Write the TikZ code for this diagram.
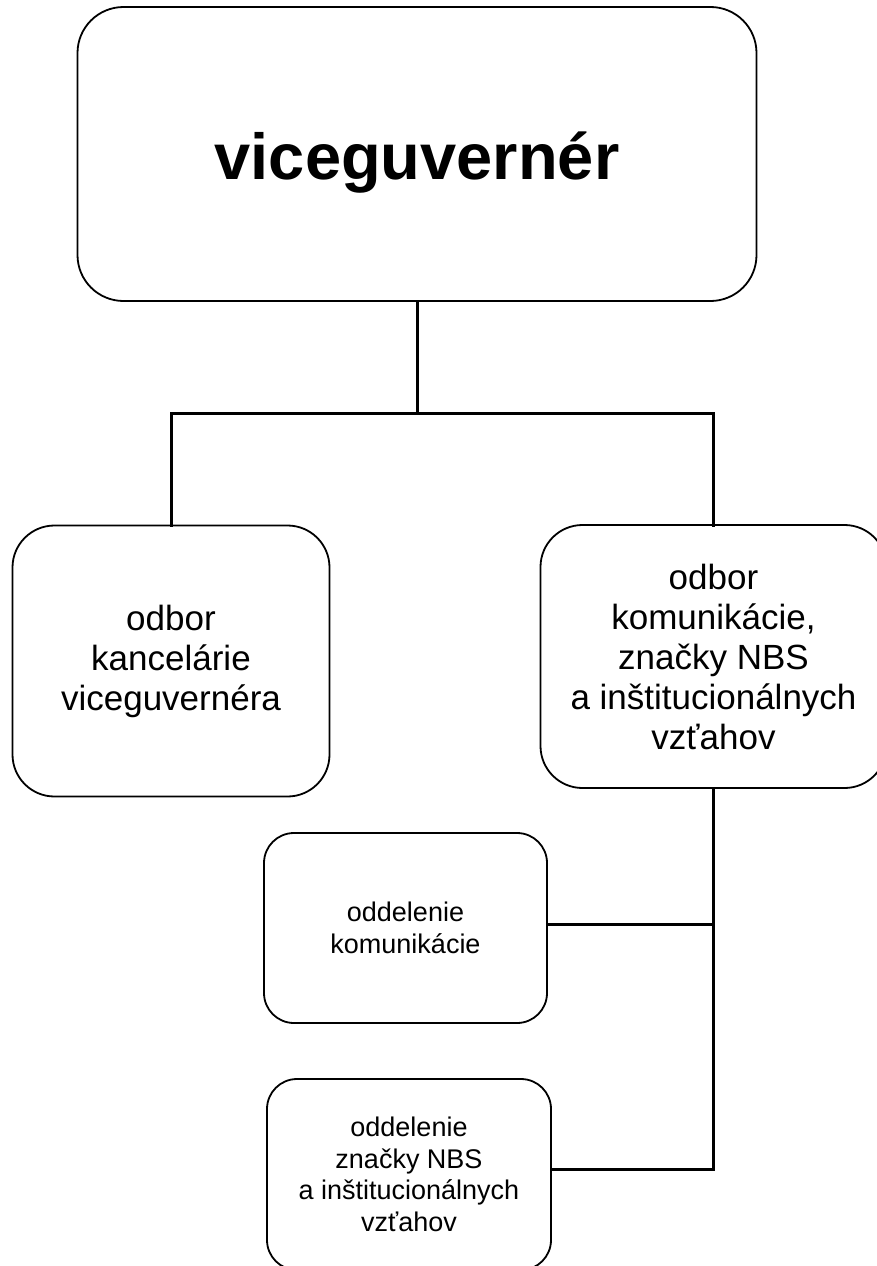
\documentclass[tikz,border=0pt]{standalone}
\usepackage{fontspec}
\setmainfont{Liberation Sans}
\tikzset{
  x=1pt, y=-1pt,
  box/.style={draw, line width=1.8pt, rounded corners=#1, inner sep=0pt, outer sep=0pt, align=center},
  big/.style={font=\fontsize{35}{40}\selectfont},
  small/.style={font=\fontsize{27}{31.5}\selectfont},
  conn/.style={line width=3pt, line cap=rect}
}
\begin{document}
\begin{tikzpicture}
\path[use as bounding box, clip] (0,0) rectangle (877,1266);
\fill[white] (0,0) rectangle (877,1266);
\node[box=46pt, minimum width=679pt, minimum height=294pt, text height=62pt, text depth=12pt, font=\fontsize{65}{75}\selectfont\bfseries] (top) at (417,154) {viceguvernér};
\node[box=42pt, big, minimum width=317pt, minimum height=271pt] (left) at (171,661) {odbor\\kancelárie\\viceguvernéra};
\node[box=42pt, big, minimum width=346pt, minimum height=263pt] (right) at (713.5,656.5) {odbor\\komunikácie,\\značky NBS\\a inštitucionálnych\\vzťahov};
\node[box=30pt, small, minimum width=283pt, minimum height=190pt] (b3) at (405.5,928) {oddelenie\\komunikácie};
\node[box=30pt, small, minimum width=284pt, minimum height=191pt] (b4) at (409,1174.5) {oddelenie\\značky NBS\\a inštitucionálnych\\vzťahov};
\coordinate (bus) at (0,413);
\coordinate (k3) at (713,924);
\coordinate (k4) at (713,1169);
\draw[conn] (top.south) -- (top.south |- bus);
\draw[conn] (left.north) -- (left.north |- bus) -- (right.north |- bus) -- (right.north);
\draw[conn] (right.south) -- (right.south |- k4);
\draw[conn] (b3.east |- k3) -- (right.south |- k3);
\draw[conn] (b4.east |- k4) -- (right.south |- k4);
\end{tikzpicture}
\end{document}
